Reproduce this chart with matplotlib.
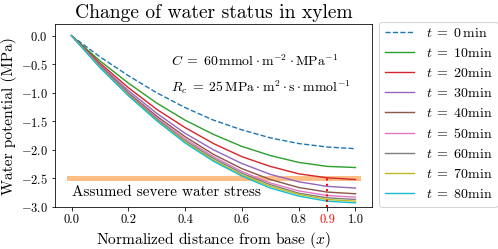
import numpy as np
import matplotlib
matplotlib.use("Agg")
import matplotlib.pyplot as plt

plt.rcParams['font.family'] = 'serif'
plt.rcParams['font.serif'] = ['cmr10']
plt.rcParams['mathtext.fontset'] = 'cm'
plt.rcParams['axes.formatter.use_mathtext'] = True

# normalized distance from base
x = [0.0, 0.1, 0.2, 0.3, 0.4, 0.5, 0.6, 0.7, 0.8, 0.9, 1.0]

# water potential (MPa), one list per time
psi_t0 = [0, -0.37, -0.70, -1.00, -1.26, -1.48, -1.65, -1.79, -1.89, -1.95, -1.98]
psi_t10 = [0, -0.44, -0.83, -1.18, -1.48, -1.73, -1.94, -2.10, -2.22, -2.29, -2.31]
psi_t20 = [0, -0.48, -0.91, -1.29, -1.61, -1.89, -2.12, -2.29, -2.42, -2.49, -2.52]
psi_t30 = [0, -0.51, -0.96, -1.36, -1.71, -2.00, -2.24, -2.43, -2.56, -2.64, -2.67]
psi_t40 = [0, -0.53, -1.00, -1.41, -1.77, -2.08, -2.33, -2.52, -2.66, -2.74, -2.77]
psi_t50 = [0, -0.54, -1.02, -1.44, -1.81, -2.12, -2.38, -2.58, -2.72, -2.80, -2.83]
psi_t60 = [0, -0.55, -1.03, -1.46, -1.84, -2.15, -2.41, -2.61, -2.76, -2.84, -2.87]
psi_t70 = [0, -0.55, -1.04, -1.48, -1.86, -2.18, -2.44, -2.64, -2.78, -2.87, -2.90]
psi_t80 = [0, -0.56, -1.05, -1.49, -1.88, -2.20, -2.46, -2.67, -2.81, -2.90, -2.93]

times = [0, 10, 20, 30, 40, 50, 60, 70, 80]
curves = [psi_t0, psi_t10, psi_t20, psi_t30, psi_t40, psi_t50, psi_t60, psi_t70, psi_t80]
colors = ['C0', 'C2', 'C3', 'C4', 'C5', 'C6', 'C7', 'C8', 'C9']

stress = -2.5
x_mark = 0.9
xticks = [0.0, 0.2, 0.4, 0.6, 0.8, 0.9, 1.0]

fig = plt.figure(figsize=(6.92, 3.46), dpi=72)
ax = fig.add_axes([0.110, 0.169, 0.637, 0.733])

ax.plot([-0.008, 1.008], [stress, stress], color='C1', lw=5, alpha=0.5)

for t, psi, c in zip(times, curves, colors):
    if t == 0:
        ax.plot(x, psi, '--', color=c, lw=1.4, label=r'$t\;=\;0\,\mathrm{min}$')
    else:
        ax.plot(x, psi, '-', color=c, lw=1.4, label=r'$t\;=\;%d\mathrm{min}$' % t)

ax.vlines(x_mark, -3, psi_t20[x.index(x_mark)], colors='red', linestyles=':', lw=2)

ax.text(0.35, -0.45, r'$C\;=\;60\,\mathrm{mmol}\cdot\mathrm{m}^{-2}\cdot\mathrm{MPa}^{-1}$',
        fontsize=13.8, va='center')
ax.text(0.35, -0.9, r'$R_c\;=\;25\,\mathrm{MPa}\cdot\mathrm{m}^{2}\cdot\mathrm{s}\cdot\mathrm{mmol}^{-1}$',
        fontsize=13.8, va='center')
ax.text(0.0, -2.74, 'Assumed severe water stress', fontsize=15.2, va='center')

ax.set_ylim(-3, 0.2)
ax.set_xticks(xticks)
ax.set_xticklabels(['%.1f' % v for v in xticks])
ax.get_xticklabels()[5].set_color('red')
ax.tick_params(labelsize=12.5)
ax.set_xlabel(r'Normalized distance from base $(x)$', fontsize=15.5)
ax.set_ylabel('Water potential (MPa)', fontsize=15.5)
ax.set_title('Change of water status in xylem', fontsize=19.5)
ax.legend(loc='upper left', bbox_to_anchor=(1.023, 1.015), borderaxespad=0,
          fontsize=14, handlelength=2.1, handletextpad=0.8, labelspacing=0.5)

fig.savefig('out.png', dpi=72)
